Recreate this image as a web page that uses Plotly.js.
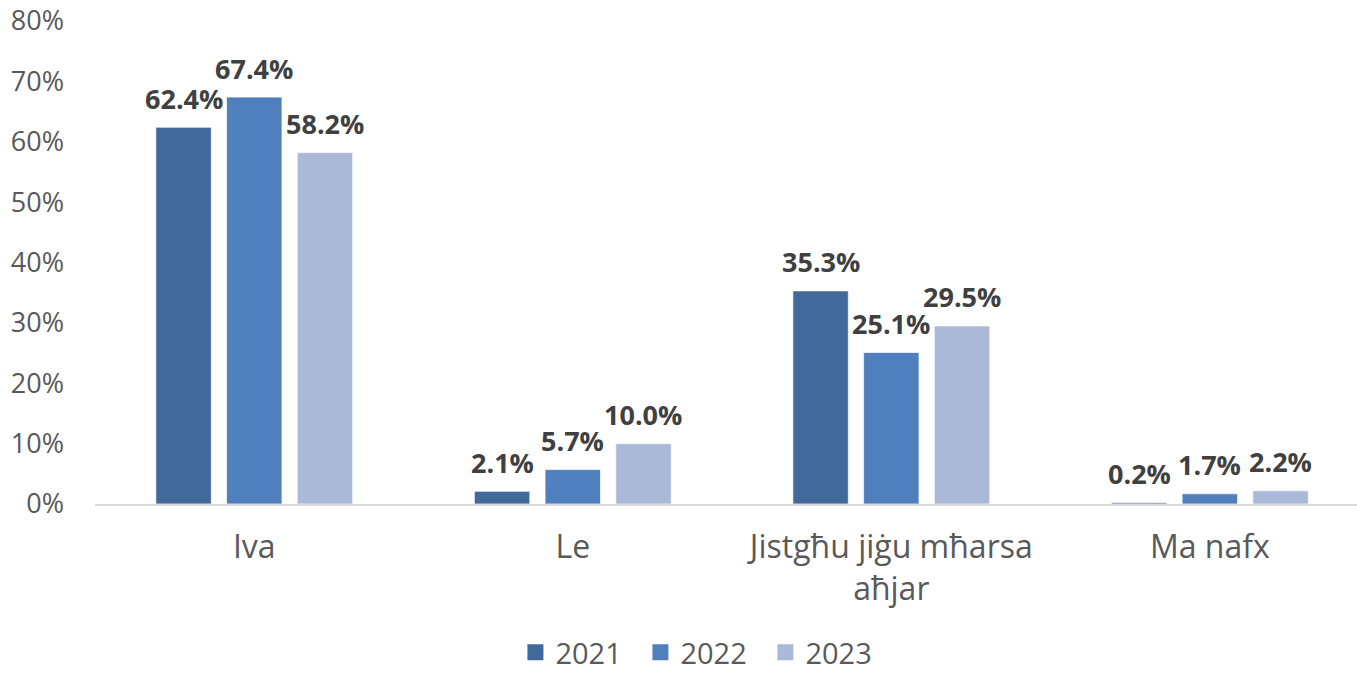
<!DOCTYPE html>
<html>
<head>
<meta charset="utf-8">
<script src="https://cdn.plot.ly/plotly-3.0.1.min.js"></script>
<style>html,body{margin:0;padding:0;background:#fff;}#chart{width:1357px;height:678px;}</style>
</head>
<body>
<div id="chart"></div>
<script>
const categories = ["Iva", "Le", "Jistgħu jiġu mħarsa<br>aħjar", "Ma nafx"];
const seriesNames = ["2021", "2022", "2023"];
const values2021 = [0.624, 0.021, 0.353, 0.002];
const values2022 = [0.674, 0.057, 0.251, 0.017];
const values2023 = [0.582, 0.100, 0.295, 0.022];
const seriesValues = [values2021, values2022, values2023];
const yTicks = [0, 0.1, 0.2, 0.3, 0.4, 0.5, 0.6, 0.7, 0.8];
const colors = ["#41699C", "#4F80BD", "#AAB9D7"];

const FONT = "Open Sans, Liberation Sans, sans-serif";

const traces = seriesValues.map((vals, i) => ({
  type: "bar",
  name: seriesNames[i],
  x: categories,
  y: vals,
  showlegend: false,
  marker: { color: colors[i], line: { color: "rgba(255,255,255,0.7)", width: 1 } },
  hoverinfo: "skip"
}));

// legend entries (square swatches)
seriesNames.forEach((n, i) => {
  traces.push({
    type: "scatter", mode: "markers", name: n,
    x: [null], y: [null],
    marker: { symbol: "square", size: 20, color: colors[i] },
    hoverinfo: "skip"
  });
});

// data labels centered above each bar
const pitch = 70.7; // px between bars in a group
const annotations = [];
seriesValues.forEach((vals, i) => {
  vals.forEach((v, j) => {
    annotations.push({
      x: categories[j], y: v, xref: "x", yref: "y",
      xshift: (i - 1) * pitch, yshift: 29,
      text: (v * 100).toFixed(1) + "%",
      showarrow: false,
      font: { family: FONT, size: 27, color: "#404040", weight: 700 }
    });
  });
});

const layout = {
  width: 1357, height: 678,
  margin: { l: 95, r: 0, t: 21, b: 174, pad: 0 },
  paper_bgcolor: "#ffffff", plot_bgcolor: "#ffffff",
  barmode: "group",
  bargap: 0.334,
  bargroupgap: 0.216,
  font: { family: FONT, color: "#595959" },
  xaxis: {
    type: "category",
    range: [-0.5, 3.462],
    showline: true, linecolor: "#D9D9D9", linewidth: 1.5,
    showgrid: false, zeroline: false, ticks: "",
    tickfont: { family: FONT, size: 32, color: "#595959" },
    ticklabelstandoff: 14
  },
  yaxis: {
    range: [0, 0.80001], tickvals: yTicks, tickformat: ".0%",
    showgrid: false, zeroline: false, showline: false, ticks: "",
    tickfont: { family: FONT, size: 27, color: "#595959" },
    ticklabelstandoff: 30,
    ticklabeloverflow: "allow"
  },
  showlegend: true,
  legend: {
    orientation: "h",
    xref: "container", yref: "container",
    x: 0.518, xanchor: "center", y: 0, yanchor: "bottom",
    font: { family: FONT, size: 29, color: "#595959" },
    itemsizing: "trace",
    entrywidth: 80, entrywidthmode: "pixels",
    itemclick: false, itemdoubleclick: false
  },
  annotations: annotations
};

Plotly.newPlot("chart", traces, layout, { displayModeBar: false, staticPlot: true });
</script>
</body>
</html>
